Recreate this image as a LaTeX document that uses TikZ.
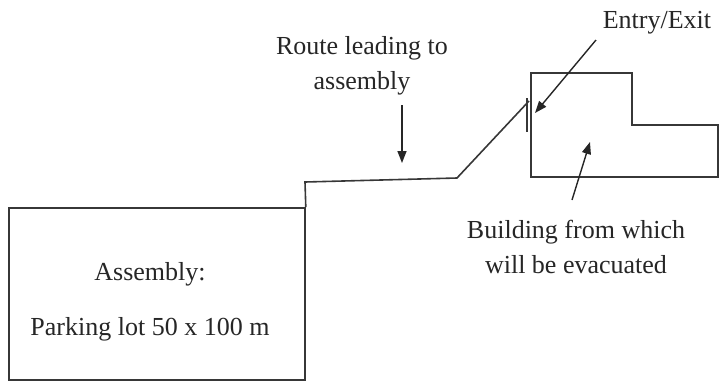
\documentclass[tikz,border=0pt]{standalone}
\usepackage{fontspec}
\setmainfont{Liberation Serif}
\usepackage{tikz}
\usetikzlibrary{arrows.meta,positioning,calc}
\definecolor{inkcol}{RGB}{55,55,55}

\begin{document}
\begin{tikzpicture}[
  x=0.5pt, y=-0.5pt,
  font=\fontsize{13}{17.5}\selectfont,
  wall/.style={draw=inkcol, line width=0.8pt},
  lot/.style={wall, rectangle, minimum width=148pt, minimum height=86pt, inner sep=0pt},
  lbl/.style={align=center, inner sep=0pt, text=black!85},
  pointer/.style={-{Triangle[length=6pt, width=4.5pt]}, draw=black!85, line width=0.7pt},
  ]
  \useasboundingbox (0,0) rectangle (720,382);
  % assembly area
  \node[lot] (lot) at (157,294) {};
  \node[lbl, anchor=base] (lotname) at (150,280) {Assembly:};
  \node[lbl, anchor=base] (lotsize) at (150,335) {Parking lot 50 x 100 m};
  % building with its door
  \draw[wall] (531,73) -- (632,73) -- (632,125) -- (718,125) -- (718,177) -- (531,177) -- cycle;
  \draw[wall] (527,98) -- (527,132);
  \coordinate (door) at (529,101);
  % route from the lot to the door
  \draw[wall] (lot.north east) -- (305,182) -- (457,178) -- (door);
  % labels (base is the last line)
  \node[lbl, anchor=base] (routelbl) at (362,89) {Route leading to\\assembly};
  \node[lbl, anchor=base] (entrylbl) at (657,28) {Entry/Exit};
  \node[lbl, anchor=base] (bldglbl) at (576,273) {Building from which\\will be evacuated};
  \coordinate (routetail) at (402,105);
  \coordinate (routetip) at (402,163);
  \coordinate (entrytail) at (596,40);
  \coordinate (entrytip) at (535,113);
  \coordinate (bldgtail) at (572,200);
  \coordinate (bldgtip) at (590,142);
  \draw[pointer] (routetail) -- (routetip);
  \draw[pointer] (entrytail) -- (entrytip);
  \draw[pointer] (bldgtail) -- (bldgtip);
\end{tikzpicture}
\end{document}
